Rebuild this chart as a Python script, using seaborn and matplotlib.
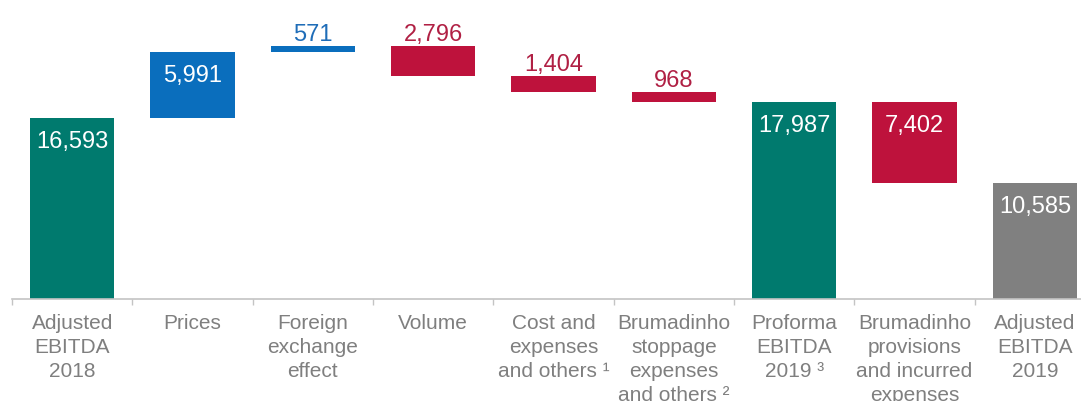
import numpy as np
import pandas as pd
import matplotlib.pyplot as plt
import seaborn as sns

sns.set_style("white")
plt.rcParams["font.family"] = ["Liberation Sans", "DejaVu Sans"]

# Waterfall data (EBITDA bridge 2018 -> 2019)
categories = [
    "Adjusted\nEBITDA\n2018",
    "Prices",
    "Foreign\nexchange\neffect",
    "Volume",
    "Cost and\nexpenses\nand others \u00b9",
    "Brumadinho\nstoppage\nexpenses\nand others \u00b2",
    "Proforma\nEBITDA\n2019 \u00b3",
    "Brumadinho\nprovisions\nand incurred\nexpenses",
    "Adjusted\nEBITDA\n2019",
]
values = [16593, 5991, 571, -2796, -1404, -968, 17987, -7402, 10585]
kinds = ["total", "up", "up", "down", "down", "down", "total", "down", "final"]

bar_colors = {"total": "#007A6E", "up": "#0A6EBD", "down": "#BE123C", "final": "#808080"}
text_colors = {"total": "white", "up": "#1F6DB8", "down": "#B02044", "final": "white"}

# running totals -> floating bar bottoms and tops
running = 0
bottoms, tops = [], []
for v, k in zip(values, kinds):
    if k in ("total", "final"):
        bottoms.append(0)
        tops.append(v)
        running = v
    else:
        new = running + v
        bottoms.append(min(running, new))
        tops.append(max(running, new))
        running = new

df = pd.DataFrame({"step": categories, "top": tops, "bottom": bottoms, "kind": kinds})

fig = plt.figure(figsize=(10.81, 4.01), dpi=100)
ax = fig.add_axes([12 / 1081, 102 / 401, 1083 / 1081, 299 / 401])

sns.barplot(data=df, x="step", y="top", hue="step",
            palette=[bar_colors[k] for k in kinds], width=0.7,
            saturation=1, legend=False, linewidth=0, ax=ax)
# white base hides the lower part of the floating bars
sns.barplot(data=df, x="step", y="bottom", color="white", width=0.7,
            saturation=1, linewidth=0, ax=ax)

ax.set_xlim(-0.5, 8.5)
ax.set_ylim(0, 27336)
ax.set_xlabel("")
ax.set_ylabel("")
ax.set_yticks([])
sns.despine(ax=ax, left=True)
ax.spines["bottom"].set_color("#C4C4C4")
ax.spines["bottom"].set_linewidth(1.2)

ax.set_xticks(np.arange(-0.5, 9, 1), minor=True)
ax.tick_params(axis="x", which="major", length=0, pad=11, labelsize=15, labelcolor="#7F7F7F")
ax.tick_params(axis="x", which="minor", bottom=True, length=4.5, width=1, color="#C4C4C4")
for lbl in ax.get_xticklabels():
    lbl.set_linespacing(1.33)

for i, (v, k) in enumerate(zip(values, kinds)):
    label = f"{abs(v):,}"
    if tops[i] - bottoms[i] > 4000:
        ax.annotate(label, xy=(i, tops[i]), xytext=(0, -30), textcoords="offset pixels",
                    ha="center", va="baseline", fontsize=17, color="white")
    else:
        ax.annotate(label, xy=(i, tops[i]), xytext=(0, 5), textcoords="offset pixels",
                    ha="center", va="baseline", fontsize=17, color=text_colors[k])

fig.savefig("out.png", dpi=100)
